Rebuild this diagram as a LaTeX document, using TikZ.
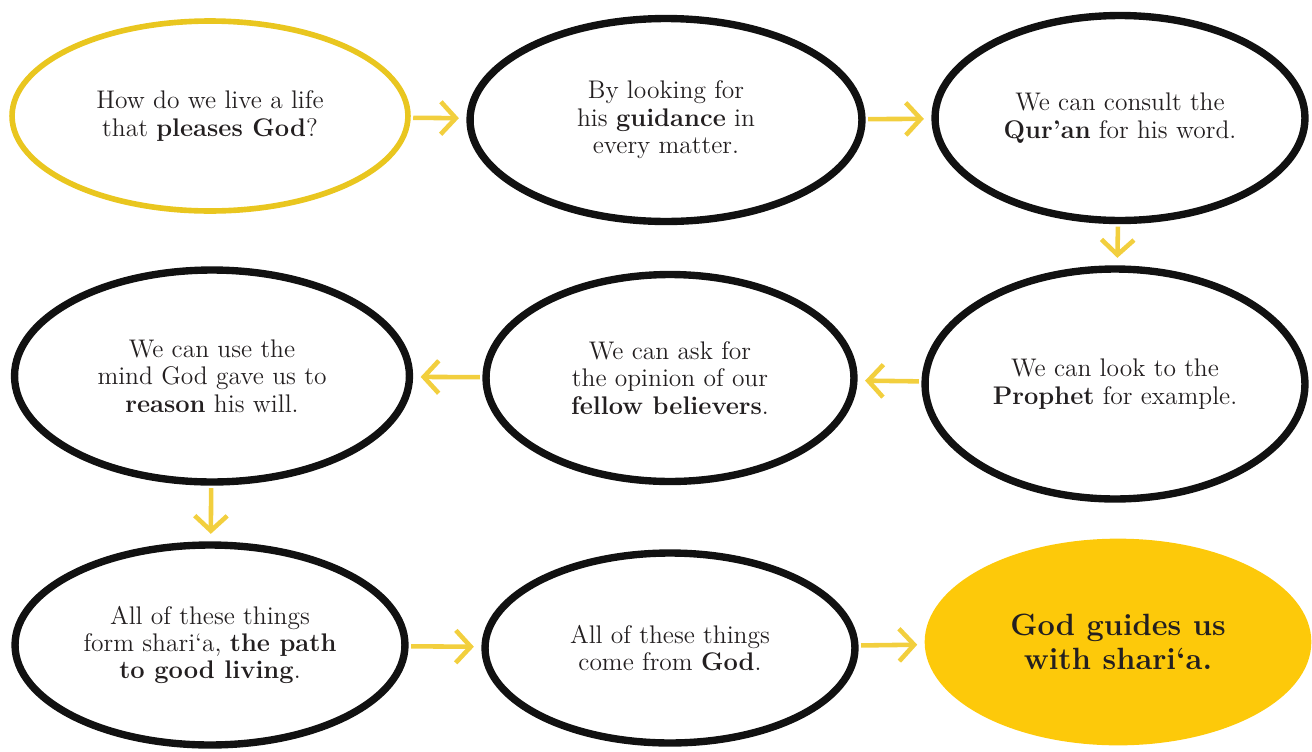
\documentclass[tikz,border=0pt]{standalone}
\usepackage{xcolor}
\usepackage{tikz}
\usetikzlibrary{arrows.meta,positioning,shapes.geometric}
\definecolor{shInk}{HTML}{231F20}
\definecolor{shLine}{HTML}{111111}
\definecolor{shGold}{HTML}{E9C61F}
\definecolor{shArrow}{HTML}{F2CF3E}
\definecolor{shFill}{HTML}{FDC90A}
\tikzset{
  % Black hand-drawn step ellipse
  stepbox/.style={ellipse,inner sep=0pt,
    draw=shLine,line width=4.2pt,
    align=center,font=\fontsize{14.5}{15.6}\selectfont,text=shInk},
  % Opening question (gold outline)
  qbox/.style={stepbox,draw=shGold,line width=3.2pt},
  % Answer (gold fill)
  abox/.style={stepbox,draw=shFill,fill=shFill,line width=1pt,
    font=\fontsize{17.5}{19}\selectfont\bfseries},
  % Arrows
  flow/.style={-{Straight Barb[length=3mm,width=6.5mm,line width=2.6pt]},
    line width=2.6pt,color=shArrow,
    shorten <=0.05cm,shorten >=0.15cm},
}
\begin{document}
\begin{tikzpicture}[x=0.02cm,y=-0.02cm]
  \useasboundingbox (0,0) rectangle (1312,751);

  % top row
  \node[qbox,minimum width=7.92cm,minimum height=3.8cm] (ask) at (210,116)
    {How do we live a life\\that \textbf{pleases God}?};
  \node[stepbox,minimum width=7.84cm,minimum height=4.06cm] (guide) at (666,120)
    {By looking for\\his \textbf{guidance} in\\every matter.};
  \node[stepbox,minimum width=7.4cm,minimum height=4.1cm] (quran) at (1120,118)
    {We can consult the\\\textbf{Qur’an} for his word.};

  % middle row
  \node[stepbox,minimum width=7.6cm,minimum height=4.6cm] (prophet) at (1115,384)
    {We can look to the\\\textbf{Prophet} for example.};
  \node[stepbox,minimum width=7.36cm,minimum height=4.14cm] (fellow) at (670,378)
    {We can ask for\\the opinion of our\\\textbf{fellow believers}.};
  \node[stepbox,minimum width=7.9cm,minimum height=4.24cm] (reason) at (212,376)
    {We can use the\\mind God gave us to\\\textbf{reason} his will.};

  % bottom row
  \node[stepbox,minimum width=7.8cm,minimum height=4.0cm] (path) at (210,645)
    {All of these things\\form shari‘a, \textbf{the path}\\\textbf{to good living}.};
  \node[stepbox,minimum width=7.4cm,minimum height=3.8cm] (god) at (670,648)
    {All of these things\\come from \textbf{God}.};
  \node[abox,minimum width=7.7cm,minimum height=4.1cm] (sharia) at (1118,642)
    {God guides us\\with shari‘a.};

  \draw[flow] (ask) -- (guide);
  \draw[flow] (guide) -- (quran);
  \draw[flow] (quran) -- (prophet);
  \draw[flow] (prophet) -- (fellow);
  \draw[flow] (fellow) -- (reason);
  \draw[flow] (reason) -- (path);
  \draw[flow] (path) -- (god);
  \draw[flow] (god) -- (sharia);
\end{tikzpicture}
\end{document}
